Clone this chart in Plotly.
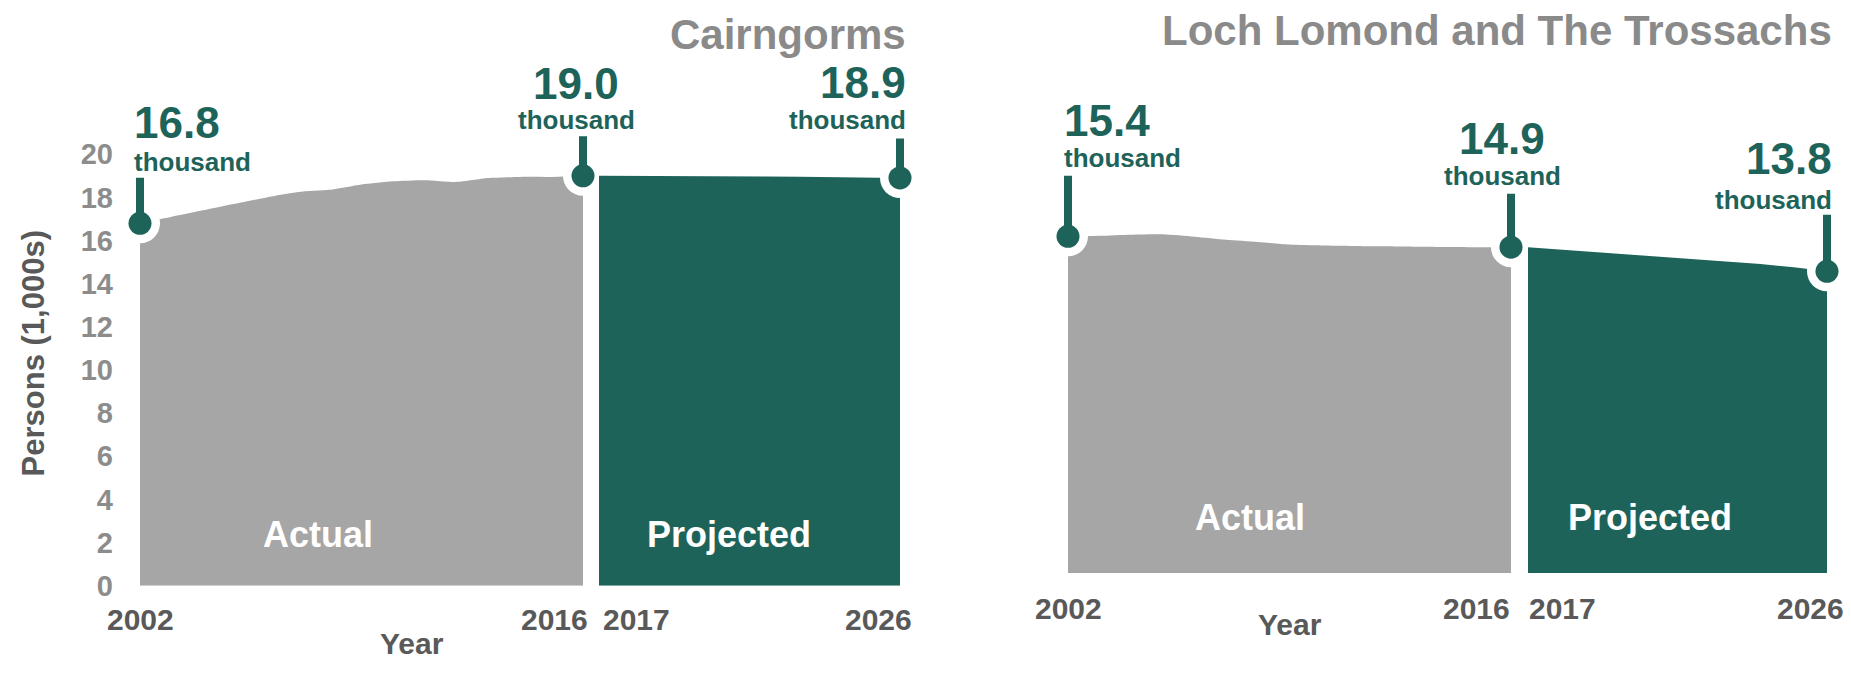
import plotly.graph_objects as go

# ---------------- data ----------------
years_actual = [2002, 2003, 2004, 2005, 2006, 2007, 2008, 2009, 2010, 2011, 2012, 2013, 2014, 2015, 2016]
years_proj = [2017, 2018, 2019, 2020, 2021, 2022, 2023, 2024, 2025, 2026]

cairn_actual = [16.8, 17.1, 17.4, 17.7, 18.0, 18.25, 18.35, 18.6, 18.75, 18.8, 18.72, 18.9, 18.95, 18.95, 19.0]
cairn_proj = [19.0, 19.0, 19.0, 18.99, 18.98, 18.97, 18.96, 18.94, 18.92, 18.9]

loch_actual = [15.4, 15.42, 15.47, 15.49, 15.38, 15.24, 15.14, 15.02, 14.98, 14.96, 14.94, 14.92, 14.91, 14.9, 14.9]
loch_proj = [14.9, 14.79, 14.68, 14.57, 14.46, 14.35, 14.24, 14.13, 13.98, 13.8]

y_ticks = [0, 2, 4, 6, 8, 10, 12, 14, 16, 18, 20]
x_tick_labels = ["2002", "2016", "2017", "2026"]
panel_titles = ["Cairngorms", "Loch Lomond and The Trossachs"]
period_labels = ["Actual", "Projected"]

# ---------------- style ----------------
W, H = 1851, 674
FONT = "Liberation Sans, Arial, Helvetica, sans-serif"
GRAY = "#a6a6a6"
TEAL = "#1e6359"
TITLE_GRAY = "#8a8a8a"
YTICK_GRAY = "#8c8c8c"
DARK_GRAY = "#595959"


def fx(p):
    return p / W


def fy(p):
    return 1 - p / H


fig = go.Figure()

# ---------------- areas ----------------
def area(x, y, xa, ya, color, shape="linear"):
    fig.add_trace(go.Scatter(
        x=x, y=y, xaxis=xa, yaxis=ya, mode="lines", fill="tozeroy",
        line=dict(width=0, color=color, shape=shape, smoothing=0.6),
        fillcolor=color, hoverinfo="skip", showlegend=False))


area(years_actual, cairn_actual, "x", "y", GRAY, "spline")
area(years_proj, cairn_proj, "x2", "y", TEAL)
area(years_actual, loch_actual, "x3", "y2", GRAY, "spline")
area(years_proj, loch_proj, "x4", "y2", TEAL)

# ---------------- endpoint dots ----------------
def dots(x, y, xa, ya):
    fig.add_trace(go.Scatter(x=x, y=y, xaxis=xa, yaxis=ya, mode="markers",
                             marker=dict(size=40, color="white"), cliponaxis=False,
                             hoverinfo="skip", showlegend=False))
    fig.add_trace(go.Scatter(x=x, y=y, xaxis=xa, yaxis=ya, mode="markers",
                             marker=dict(size=23, color=TEAL), cliponaxis=False,
                             hoverinfo="skip", showlegend=False))


dots([years_actual[0], years_actual[-1]], [cairn_actual[0], cairn_actual[-1]], "x", "y")
dots([years_proj[-1]], [cairn_proj[-1]], "x2", "y")
dots([years_actual[0], years_actual[-1]], [loch_actual[0], loch_actual[-1]], "x3", "y2")
dots([years_proj[-1]], [loch_proj[-1]], "x4", "y2")

# ---------------- stems (pixel-length arrows from each dot) ----------------
def stem(x, y, xa, ya, length):
    fig.add_annotation(x=x, y=y, xref=xa, yref=ya, text="", showarrow=True,
                       arrowhead=0, arrowwidth=8, arrowcolor=TEAL, ax=0, ay=-length,
                       standoff=0, startstandoff=0, font=dict(size=1))


stem(years_actual[0], cairn_actual[0], "x", "y", 47)
stem(years_actual[-1], cairn_actual[-1], "x", "y", 41)
stem(years_proj[-1], cairn_proj[-1], "x2", "y", 41)
stem(years_actual[0], loch_actual[0], "x3", "y2", 62)
stem(years_actual[-1], loch_actual[-1], "x3", "y2", 55)
stem(years_proj[-1], loch_proj[-1], "x4", "y2", 58)

# ---------------- text helpers ----------------
def ann(text, xpx, ypx, size, color, xanchor="center", angle=0):
    fig.add_annotation(text=text, x=fx(xpx), y=fy(ypx), xref="paper", yref="paper",
                       xanchor=xanchor, yanchor="middle", showarrow=False,
                       textangle=angle, borderpad=0,
                       font=dict(family=FONT, size=size, color=color, weight="bold"))


def value_label(v, xpx, ypx_num, ypx_th, xanchor):
    ann(f"{v:.1f}", xpx, ypx_num, 44, TEAL, xanchor)
    ann("thousand", xpx, ypx_th, 26, TEAL, xanchor)


value_label(cairn_actual[0], 133, 125, 166, "left")
value_label(cairn_actual[-1], 576, 86, 123, "center")
value_label(cairn_proj[-1], 907, 84, 123, "right")
value_label(loch_actual[0], 1063, 123, 162, "left")
value_label(loch_actual[-1], 1502, 142, 180, "center")
value_label(loch_proj[-1], 1833, 162, 205, "right")

# titles
ann(panel_titles[0], 907, 35, 42, TITLE_GRAY, "right")
ann(panel_titles[1], 1833, 31, 42, TITLE_GRAY, "right")

# period labels inside areas
ann(period_labels[0], 318, 548, 36, "white")
ann(period_labels[1], 729, 547, 36, "white")
ann(period_labels[0], 1250, 530, 36, "white")
ann(period_labels[1], 1650, 530, 36, "white")

# axis titles
ann("Persons (1,000s)", 33, 362, 31, DARK_GRAY, "center", -90)
ann("Year", 412, 659, 30, DARK_GRAY)
ann("Year", 1290, 640, 30, DARK_GRAY)

# x tick labels placed on the year axes
def xtick(label, year, xa, ypx, xanchor, xshift=0):
    fig.add_annotation(text=label, x=year, y=fy(ypx), xref=xa, yref="paper",
                       xanchor=xanchor, yanchor="middle", xshift=xshift, showarrow=False,
                       borderpad=0,
                       font=dict(family=FONT, size=30, color=DARK_GRAY, weight="bold"))


xtick(x_tick_labels[0], years_actual[0], "x", 635, "center")
xtick(x_tick_labels[1], years_actual[-1], "x", 635, "right", 6)
xtick(x_tick_labels[2], years_proj[0], "x2", 635, "left", 3)
xtick(x_tick_labels[3], years_proj[-1], "x2", 635, "right", 13)
xtick(x_tick_labels[0], years_actual[0], "x3", 623, "center")
xtick(x_tick_labels[1], years_actual[-1], "x3", 623, "right")
xtick(x_tick_labels[2], years_proj[0], "x4", 623, "left")
xtick(x_tick_labels[3], years_proj[-1], "x4", 623, "right", 18)

# ---------------- axes ----------------
hidden_x = dict(showticklabels=False, showgrid=False, zeroline=False, showline=False,
                ticks="", fixedrange=True)

fig.update_layout(
    width=W, height=H, autosize=False,
    margin=dict(l=0, r=0, t=0, b=0, pad=0),
    paper_bgcolor="white", plot_bgcolor="white",
    showlegend=False,
    xaxis=dict(domain=[fx(140), fx(583)], range=[2002, 2016], anchor="y", **hidden_x),
    xaxis2=dict(domain=[fx(599), fx(900)], range=[2017, 2026], anchor="y", **hidden_x),
    xaxis3=dict(domain=[fx(1068), fx(1511)], range=[2002, 2016], anchor="y2", **hidden_x),
    xaxis4=dict(domain=[fx(1528), fx(1827)], range=[2017, 2026], anchor="y2", **hidden_x),
    yaxis=dict(domain=[fy(600), fy(130)], range=[0, (600 - 130) / 22.1], anchor="x",
               tickvals=y_ticks, showgrid=False, zeroline=False, showline=False,
               ticks="", ticklabelstandoff=26, fixedrange=True,
               tickfont=dict(family=FONT, size=29, color=YTICK_GRAY, weight="bold")),
    yaxis2=dict(domain=[fy(587), fy(130)], range=[0, (587 - 130) / 22.4], anchor="x3",
                showticklabels=False, showgrid=False, zeroline=False, showline=False,
                ticks="", fixedrange=True),
)

fig.write_html(
    "out.html",
    config={"displayModeBar": False},
    post_script="document.body.style.margin='0';document.body.style.overflow='hidden';",
)
